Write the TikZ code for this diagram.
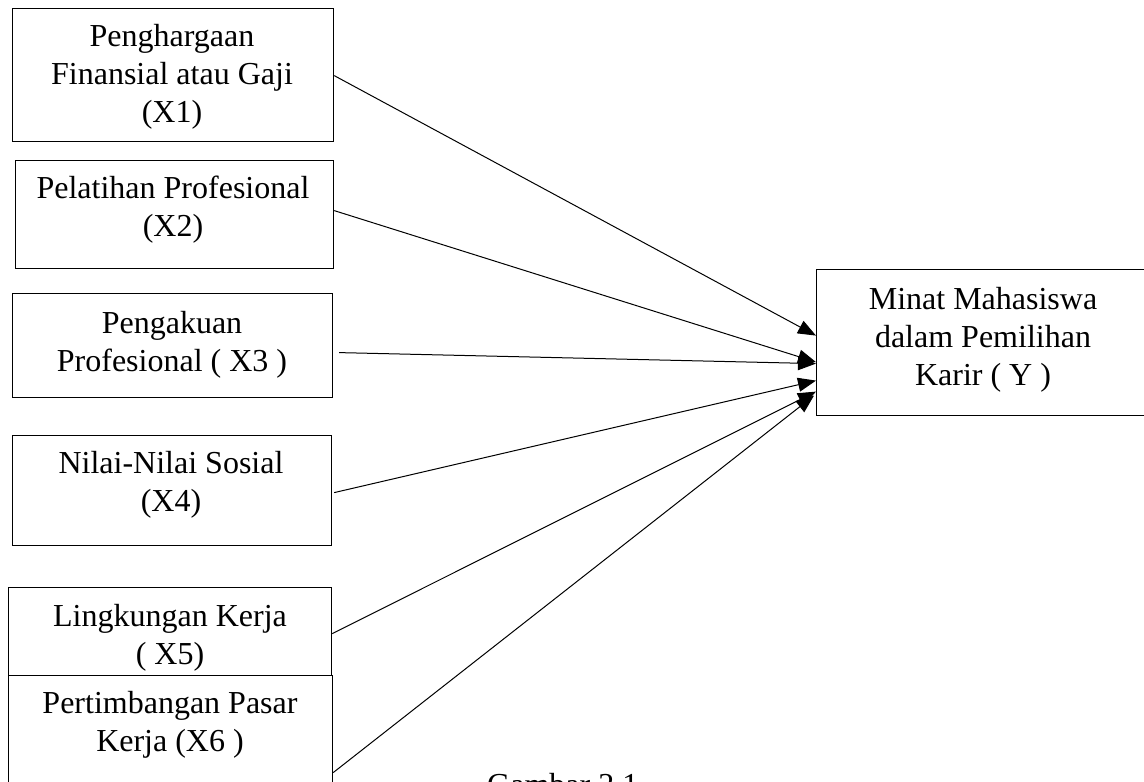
\documentclass[tikz,border=0pt]{standalone}
\usepackage{fontspec}
\setmainfont{Liberation Serif}
\usetikzlibrary{arrows.meta,calc}
\tikzset{
  box/.style={draw=black, line width=1.2pt, rectangle, anchor=north west, inner sep=0pt},
  lbl/.style={align=center, font=\fontsize{32}{38}\selectfont, inner sep=0pt},
  conn/.style={draw=black, line width=1pt, -{Triangle[length=18pt,width=14pt]}},
}
\begin{document}
\begin{tikzpicture}[x=1pt,y=-1pt]
\clip (0,0) rectangle (1144,782);
\fill[white] (0,0) rectangle (1144,782);
% boxes
\node[box, minimum width=321pt, minimum height=133pt] (x1) at (12,8) {};
\node[box, minimum width=318pt, minimum height=108pt] (x2) at (15,160) {};
\node[box, minimum width=320pt, minimum height=104pt] (x3) at (12,293) {};
\node[box, minimum width=319pt, minimum height=110pt] (x4) at (12,435) {};
\node[box, minimum width=323pt, minimum height=88pt] (x5) at (8,587) {};
\node[box, fill=white, minimum width=324pt, minimum height=150pt] (x6) at (8,675) {};
\node[box, minimum width=340pt, minimum height=146pt] (y) at (816,269) {};
% labels
\node[lbl] (t1) at (172,77) {Penghargaan\\Finansial atau Gaji\\(X1)};
\node[lbl] (t2) at (173,210) {Pelatihan Profesional\\(X2)};
\node[lbl] (t3) at (172,345) {Pengakuan\\Profesional ( X3 )};
\node[lbl] (t4) at (171,485) {Nilai-Nilai Sosial\\(X4)};
\node[lbl] (t5) at (170,638) {Lingkungan Kerja\\( X5)};
\node[lbl] (t6) at (170,725) {Pertimbangan Pasar\\Kerja (X6 )};
\node[lbl] (ty) at (983,340) {Minat Mahasiswa\\dalam Pemilihan\\Karir ( Y )};
\node[lbl, anchor=base west] (cap) at (487,795) {Gambar 2.1};
% connectors
\draw[conn] ($(x1.east)+(0,0.5)$) -- ($(y.west)+(0,-7)$);
\draw[conn] ($(x2.east)+(0,-4)$) -- ($(y.west)+(0,19.5)$);
\draw[conn] ($(x3.east)+(6,7)$) -- ($(y.west)+(0,21)$);
\draw[conn] ($(x4.east)+(2,2)$) -- ($(y.west)+(0,38)$);
\draw[conn] ($(x5.east)+(0,2)$) -- ($(y.west)+(0,49)$);
\draw[conn] ($(x6.east)+(0,22)$) -- ($(y.west)+(-2,53)$);
\end{tikzpicture}
\end{document}
